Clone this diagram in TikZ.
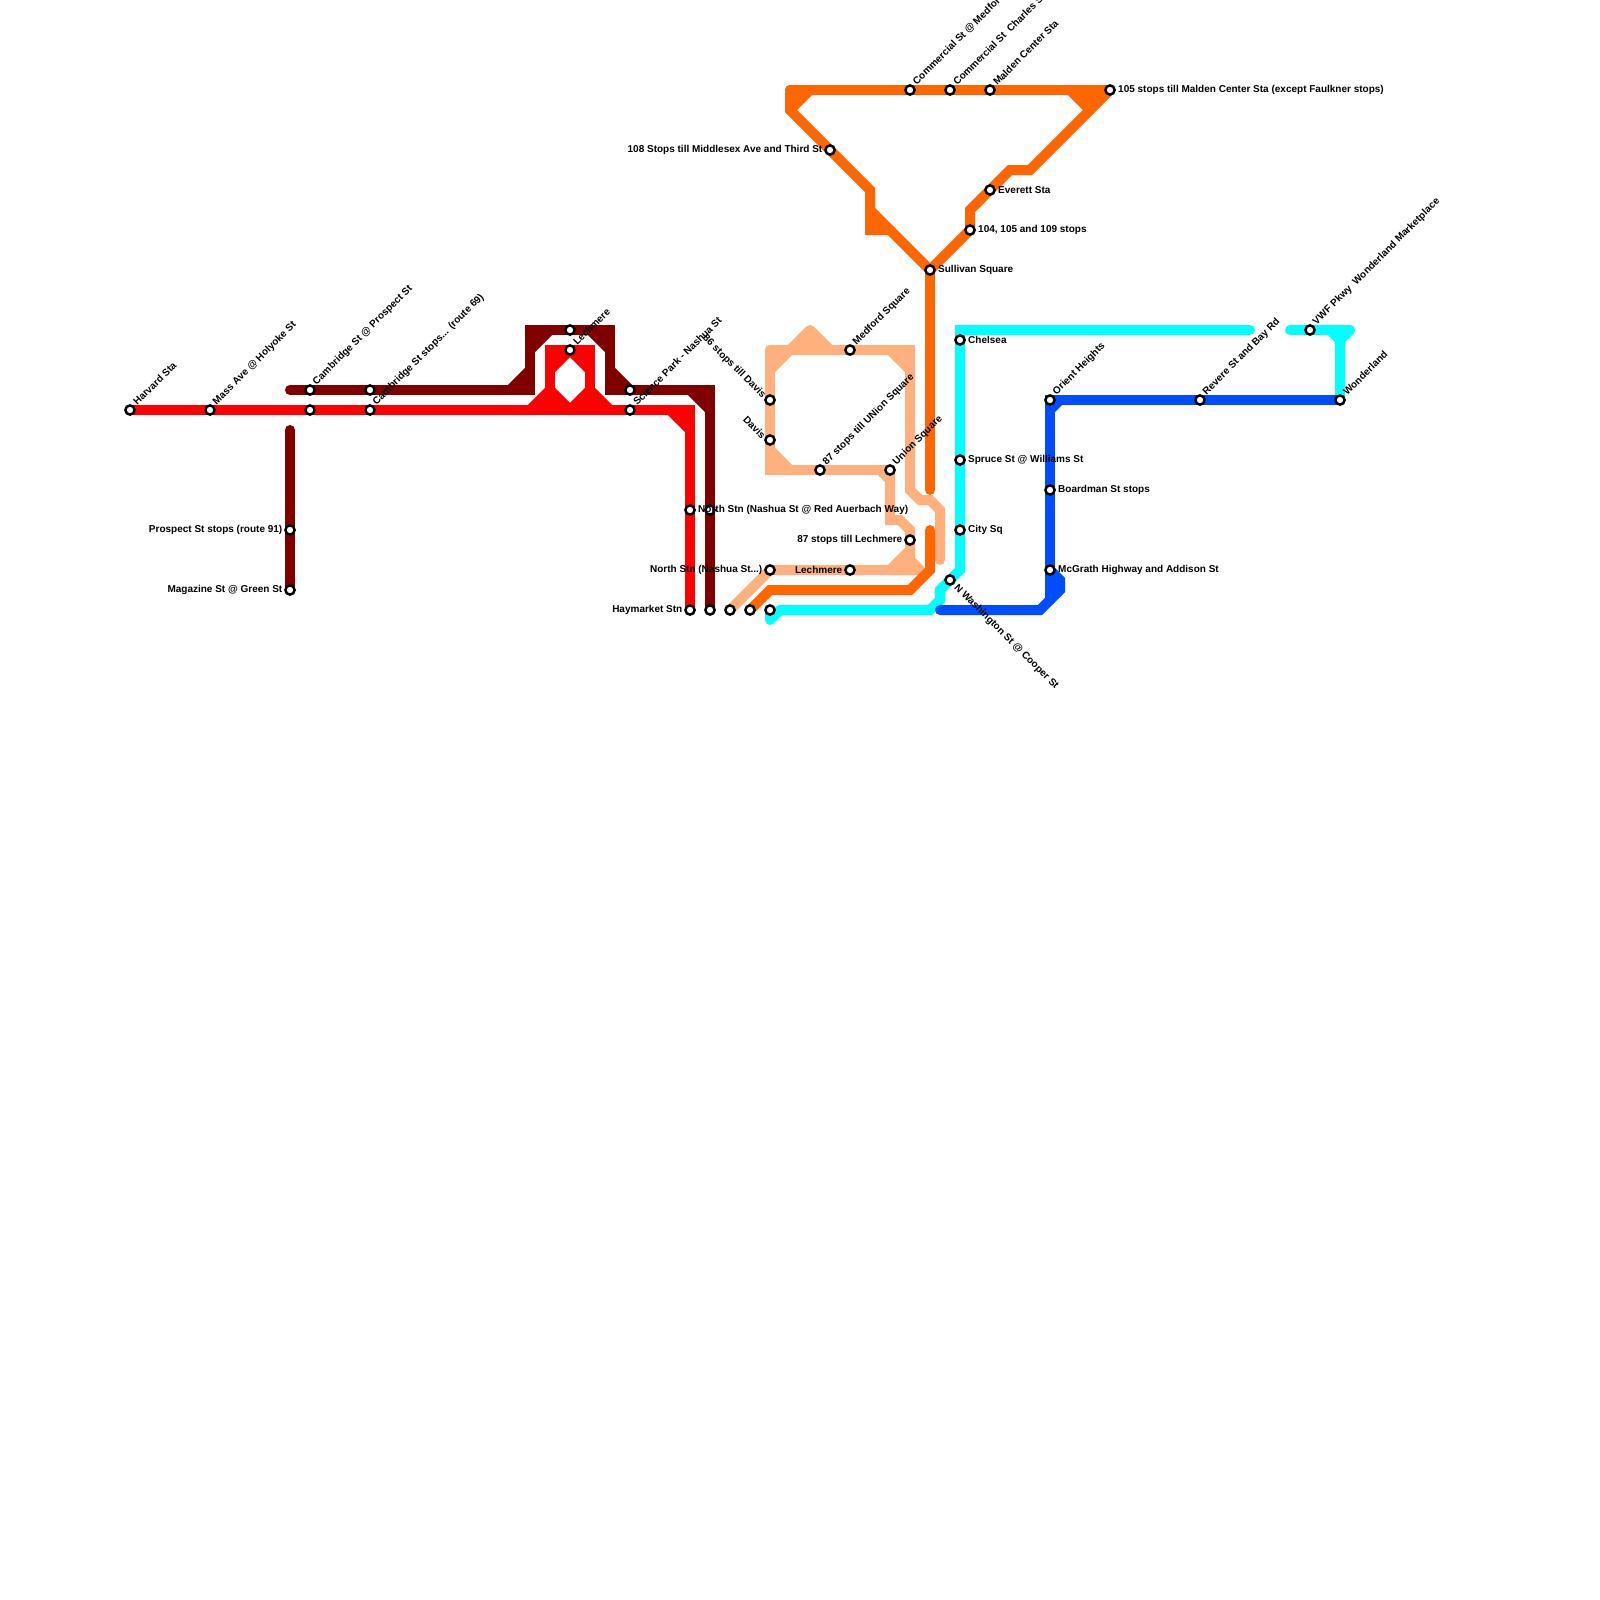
\documentclass[tikz,border=0pt]{standalone}
\usepackage{fontspec}
\setmainfont{Liberation Sans}
\definecolor{cRed}{HTML}{FF0000}
\definecolor{cMaroon}{HTML}{800000}
\definecolor{cOrange}{HTML}{FF6600}
\definecolor{cPeach}{HTML}{FFB07C}
\definecolor{cCyan}{HTML}{00FFFF}
\definecolor{cBlue}{HTML}{004CFF}
\tikzset{
  x=1pt,y=-1pt,
  metro/.style={line width=10pt,line cap=round,line join=miter,miter limit=10},
  stn/.style={circle,draw=black,fill=white,line width=2.5pt,minimum size=9.2pt,inner sep=0pt},
  lab/.style={font=\fontsize{10}{12}\selectfont\bfseries,inner sep=0pt,text=black},
  lr/.style={lab,anchor=west,xshift=8pt},
  ll/.style={lab,anchor=east,xshift=-7.5pt},
  lu/.style={lab,anchor=west,rotate=45,xshift=7.9pt,yshift=1.2pt},
  ld/.style={lab,anchor=west,rotate=-45,xshift=8.5pt,yshift=-0.5pt},
  lb/.style={lab,anchor=east,rotate=-45,xshift=-6.3pt,yshift=-2.1pt},
}
\begin{document}
\begin{tikzpicture}
\useasboundingbox (0,0) rectangle (1600,1600);
% station positions
\foreach \n/\p in {harvard/{130,410},mass/{210,410},camP/{310,390},camQ/{310,410},camR/{370,390},camS/{370,410},
  prospect/{290,530},magazine/{290,590},lechA/{570,330},lechB/{570,350},sciA/{630,390},sciB/{630,410},
  northA/{690,510},northB/{710,510},hay/{690,610},hayB/{710,610},stC/{730,610},stD/{750,610},stE/{770,610},
  northC/{770,570},davisA/{770,400},davisB/{770,440},medford/{850,350},unionA/{820,470},unionB/{890,470},
  lechC/{910,540},lechD/{850,570},third/{830,150},commA/{910,90},commB/{950,90},malden/{990,90},maldenB/{1110,90},
  everett/{990,190},stops/{970,230},sullivan/{930,270},chelsea/{960,340},spruce/{960,460},city/{960,530},
  wash/{950,580},orient/{1050,400},board/{1050,490},mcgrath/{1050,570},revere/{1200,400},vwf/{1310,330},wonder/{1340,400}}
  {\coordinate (\n) at (\p);}
% maroon
\draw[metro,cMaroon] (290,390) -- (camP) -- (camR) -- (530,390) -- (530,330) -- (lechA) -- (610,330) -- (610,390) -- (sciA) -- (710,390) -- (hayB);
\draw[metro,cMaroon] (510,390) -- (530,370) (530,350) -- (550,330) (590,330) -- (610,350) (610,370) -- (630,390) (690,390) -- (710,410);
\fill[cMaroon] (530,330) -- (550,330) -- (530,350) -- cycle (610,330) -- (590,330) -- (610,350) -- cycle (530,390) -- (510,390) -- (530,370) -- cycle (610,390) -- (630,390) -- (610,370) -- cycle (710,390) -- (690,390) -- (710,410) -- cycle;
\draw[metro,cMaroon] (290,430) -- (prospect) -- (magazine);
% red
\draw[metro,cRed] (harvard) -- (mass) -- (camQ) -- (camS) -- (sciB) -- (690,410) -- (northA) -- (hay);
\draw[metro,cRed] (550,410) -- (550,350) -- (lechB) -- (590,350) -- (590,410);
\draw[metro,cRed] (530,410) -- (550,390) (550,370) -- (570,350) (570,350) -- (590,370) (550,390) -- (570,410) (570,410) -- (590,390) (590,390) -- (610,410) (670,410) -- (690,430);
\fill[cRed] (550,350) -- (570,350) -- (550,370) -- cycle (590,350) -- (570,350) -- (590,370) -- cycle (550,410) -- (530,410) -- (550,390) -- cycle (550,410) -- (570,410) -- (550,390) -- cycle (590,410) -- (570,410) -- (590,390) -- cycle (590,410) -- (610,410) -- (590,390) -- cycle (690,410) -- (670,410) -- (690,430) -- cycle;
% peach
\draw[metro,cPeach] (stC) -- (northC) -- (lechD) -- (920,570);
\draw[metro,cPeach] (920,570) -- (910,560) (890,570) -- (910,550);
\draw[metro,cPeach] (unionB) -- (890,520) -- (900,520) -- (910,530) -- (lechC) -- (910,570);
\draw[metro,cPeach] (770,350) -- (davisA) -- (davisB) -- (770,470) -- (unionA) -- (unionB);
\draw[metro,cPeach] (770,350) -- (medford) -- (910,350) -- (910,490) -- (920,500) -- (930,500) -- (940,510) -- (940,560);
\draw[metro,cPeach] (770,370) -- (790,350) (890,350) -- (910,370) (770,450) -- (790,470) (880,470) -- (890,480);
\draw[metro,cPeach,line join=round] (790,350) -- (810,330) -- (830,350);
\fill[cPeach] (770,350) -- (790,350) -- (770,370) -- cycle (910,350) -- (890,350) -- (910,370) -- cycle (770,470) -- (790,470) -- (770,450) -- cycle (790,350) -- (830,350) -- (810,330) -- cycle (910,570) -- (890,570) -- (910,550) -- cycle (910,570) -- (920,570) -- (910,560) -- cycle;
% orange
\draw[metro,cOrange] (sullivan) -- (930,490);
\draw[metro,cOrange] (stD) -- (770,590) -- (910,590) -- (930,570) -- (930,530);
\draw[metro,cOrange] (790,90) -- (commA) -- (commB) -- (malden) -- (maldenB);
\draw[metro,cOrange] (maldenB) -- (1030,170) -- (1010,170) -- (everett) -- (970,210) -- (stops) -- (sullivan);
\draw[metro,cOrange] (790,90) -- (790,110) -- (third) -- (870,190) -- (870,230) -- (890,230);
\draw[metro,cOrange] (870,210) -- (sullivan) (810,90) -- (790,110) (1070,90) -- (1090,110);
\fill[cOrange] (790,90) -- (810,90) -- (790,110) -- cycle (1110,90) -- (1070,90) -- (1090,110) -- cycle (870,230) -- (890,230) -- (870,210) -- cycle;
% cyan
\draw[metro,cCyan] (780,610) -- (930,610) -- (940,600) -- (940,590) -- (wash) -- (960,570) -- (city) -- (spruce) -- (chelsea) -- (960,330) -- (1250,330);
\draw[metro,cCyan] (stE) -- (770,620) (770,620) -- (780,610);
\draw[metro,cCyan] (1290,330) -- (vwf) -- (1350,330);
\draw[metro,cCyan] (1350,330) -- (1340,340) (1330,330) -- (1340,340) -- (wonder);
\fill[cCyan] (1330,330) -- (1350,330) -- (1340,340) -- cycle;
% blue
\draw[metro,cBlue] (940,610) -- (1040,610) -- (1060,590) -- (1060,580) -- (mcgrath);
\draw[metro,cBlue] (1050,600) -- (mcgrath) -- (board) -- (orient) -- (revere) -- (wonder);
\draw[metro,cBlue] (1050,410) -- (1060,400);
\fill[cBlue] (1050,570) -- (1060,580) -- (1060,590) -- (1050,600) -- cycle;
% stations
\foreach \n in {harvard,mass,camP,camQ,camR,camS,prospect,magazine,lechA,lechB,sciA,sciB,northA,northB,hay,hayB,stC,stD,stE,northC,davisA,davisB,medford,unionA,unionB,lechC,lechD,third,commA,commB,malden,maldenB,everett,stops,sullivan,chelsea,spruce,city,wash,orient,board,mcgrath,revere,vwf,wonder}
  {\node[stn] (n\n) at (\n) {};}
% labels
\node[lu] (t1) at (harvard) {Harvard Sta};
\node[lu] (t2) at (mass) {Mass Ave @ Holyoke St};
\node[lu] (t3) at (camP) {Cambridge St @ Prospect St};
\node[lu] (t4) at (camS) {Cambridge St stops... (route 69)};
\node[ll] (t5) at (prospect) {Prospect St stops (route 91)};
\node[ll] (t6) at (magazine) {Magazine St @ Green St};
\node[lu] (t7) at (lechB) {Lechmere};
\node[lu] (t8) at (sciB) {Science Park - Nashua St};
\node[lr] (t9) at (northA) {North Stn (Nashua St @ Red Auerbach Way)};
\node[ll] (t10) at (hay) {Haymarket Stn};
\node[ll] (t11) at (northC) {North Stn (Nashua St...)};
\node[lb] (t12) at (davisA) {86 stops till Davis};
\node[lb] (t13) at (davisB) {Davis};
\node[lu] (t14) at (medford) {Medford Square};
\node[lu] (t15) at (unionA) {87 stops till UNion Square};
\node[lu] (t16) at (unionB) {Union Square};
\node[ll] (t17) at (lechC) {87 stops till Lechmere};
\node[ll] (t18) at (lechD) {Lechmere};
\node[ll] (t19) at (third) {108 Stops till Middlesex Ave and Third St};
\node[lu] (t20) at (commA) {Commercial St @ Medford St};
\node[lu] (t21) at (commB) {Commercial St\ \ Charles St};
\node[lu] (t22) at (malden) {Malden Center Sta};
\node[lr] (t23) at (maldenB) {105 stops till Malden Center Sta (except Faulkner stops)};
\node[lr] (t24) at (everett) {Everett Sta};
\node[lr] (t25) at (stops) {104, 105 and 109 stops};
\node[lr] (t26) at (sullivan) {Sullivan Square};
\node[lr] (t27) at (chelsea) {Chelsea};
\node[lr] (t28) at (spruce) {Spruce St @ Williams St};
\node[lr] (t29) at (city) {City Sq};
\node[ld] (t30) at (wash) {N Washington St @ Cooper St};
\node[lu] (t31) at (orient) {Orient Heights};
\node[lr] (t32) at (board) {Boardman St stops};
\node[lr] (t33) at (mcgrath) {McGrath Highway and Addison St};
\node[lu] (t34) at (revere) {Revere St and Bay Rd};
\node[lu] (t35) at (vwf) {VWF Pkwy\ \ Wonderland Marketplace};
\node[lu] (t36) at (wonder) {Wonderland};
\end{tikzpicture}
\end{document}
